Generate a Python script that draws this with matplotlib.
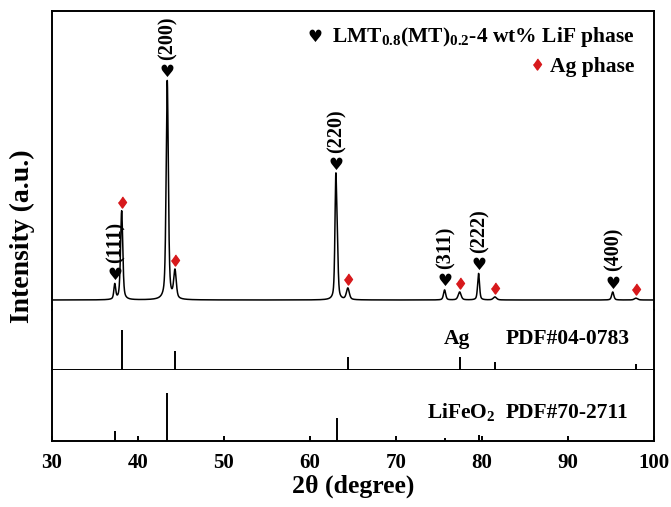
"""XRD pattern of LMT0.8(MT)0.2-4 wt% LiF with Ag and LiFeO2 reference sticks."""

import matplotlib
matplotlib.use("Agg")
import matplotlib.pyplot as plt
import numpy as np

plt.rcParams["font.family"] = ["Liberation Serif", "DejaVu Sans"]
plt.rcParams["font.weight"] = "bold"
plt.rcParams["axes.labelweight"] = "bold"
plt.rcParams["mathtext.fontset"] = "custom"
plt.rcParams["mathtext.rm"] = "Liberation Serif:bold"
plt.rcParams["mathtext.it"] = "Liberation Serif:bold"
plt.rcParams["mathtext.bf"] = "Liberation Serif:bold"

peak_pos = [37.3, 38.1, 43.4, 44.3, 63.0, 63.17, 64.4, 75.65, 77.4, 79.6, 81.5, 95.2, 97.9]
peak_height = [150, 890, 2190, 280, 1140, 420, 115, 100, 80, 265, 30, 80, 18]
peak_fwhm = [0.25, 0.3, 0.3, 0.35, 0.24, 0.24, 0.4, 0.3, 0.4, 0.26, 0.45, 0.3, 0.45]
background = 100

# indexed peaks of the main phase and Ag peaks
lmt_pos = [37.3, 43.4, 63.0, 75.65, 79.6, 95.2]
lmt_hkl = ["(111)", "(200)", "(220)", "(311)", "(222)", "(400)"]
ag_mark_pos = [38.1, 44.3, 64.4, 77.4, 81.5, 97.9]

# reference cards
ag_ref_pos = [38.1, 44.3, 64.4, 77.4, 81.5, 97.9]
ag_ref_int = [100, 47, 32, 32, 20, 15]
lfo_ref_pos = [37.3, 43.4, 63.1, 75.7, 79.7]
lfo_ref_int = [21, 100, 48, 6, 12]

RED = "#d7191c"
W, H = 671, 507
DIAMOND = [(0, 1), (0.72, 0), (0, -1), (-0.72, 0)]


def pattern(x):
    y = np.full_like(x, float(background))
    for c, h, w in zip(peak_pos, peak_height, peak_fwhm):
        g = np.exp(-4 * np.log(2) * (x - c) ** 2 / w ** 2)
        lo = 1 / (1 + 4 * (x - c) ** 2 / w ** 2)
        y += h * (0.5 * g + 0.5 * lo)
    return y


def box(top, bottom):
    return [52 / W, 1 - bottom / H, 602 / W, (bottom - top) / H]


fig = plt.figure(figsize=(W / 100, H / 100), dpi=100)
ax_xrd = fig.add_axes(box(11, 310))
ax_ag = fig.add_axes(box(310, 370))
ax_lfo = fig.add_axes(box(370, 441))

for ax in (ax_xrd, ax_ag, ax_lfo):
    ax.set_xlim(30, 100)
    ax.set_yticks([])
    for s in ax.spines.values():
        s.set_linewidth(1.4)
ax_xrd.spines["bottom"].set_visible(False)
ax_ag.spines["top"].set_visible(False)
ax_lfo.spines["top"].set_visible(False)
ax_xrd.set_xticks([])
ax_ag.set_xticks([])

x = np.linspace(30, 100, 7001)
y = pattern(x)
ax_xrd.plot(x, y, color="black", lw=1.1)
ax_xrd.set_ylim(0, 2990)
px = 10.0  # data units per pixel in the pattern panel


def top_at(p):
    return pattern(np.array([p]))[0]


for p, lab in zip(lmt_pos, lmt_hkl):
    yt = top_at(p)
    ax_xrd.annotate("\u2665", (p, yt), xytext=(0, 2.5), textcoords="offset points",
                    ha="center", va="baseline", fontsize=12, family="DejaVu Sans")
    ax_xrd.annotate(lab, (p, yt), xytext=(0.5, 15), textcoords="offset points",
                    ha="center", va="bottom", rotation=90, fontsize=14.5)

ag_tops = [top_at(p) + 9 * px for p in ag_mark_pos]
ax_xrd.plot(ag_mark_pos, ag_tops, ls="none", marker=DIAMOND, ms=8, color=RED, mec=RED)

# legend
ax_xrd.text(0.437, 0.913, "\u2665", transform=ax_xrd.transAxes, ha="center", va="center",
            fontsize=12, family="DejaVu Sans")
ax_xrd.text(0.968, 0.896, "LMT$_{0.8}$(MT)$_{0.2}$-4 wt% LiF phase", transform=ax_xrd.transAxes,
            ha="right", va="baseline", fontsize=15.5)
ax_xrd.plot([0.806], [0.823], transform=ax_xrd.transAxes, marker=DIAMOND, ms=8,
            color=RED, mec=RED, ls="none")
ax_xrd.text(0.968, 0.796, "Ag phase", transform=ax_xrd.transAxes, ha="right",
            va="baseline", fontsize=15.5)

ax_ag.vlines(ag_ref_pos, 0, ag_ref_int, color="black", lw=1.4)
ax_ag.set_ylim(0, 150)
ax_ag.text(0.651, 0.433, "Ag", transform=ax_ag.transAxes, ha="left", va="baseline", fontsize=15.5)
ax_ag.text(0.960, 0.433, "PDF#04-0783", transform=ax_ag.transAxes, ha="right", va="baseline",
           fontsize=15.5)

ax_lfo.vlines(lfo_ref_pos, 0, lfo_ref_int, color="black", lw=1.4)
ax_lfo.set_ylim(0, 148)
ax_lfo.text(0.623, 0.324, "LiFeO$_2$", transform=ax_lfo.transAxes, ha="left", va="baseline",
            fontsize=15.5)
ax_lfo.text(0.957, 0.324, "PDF#70-2711", transform=ax_lfo.transAxes, ha="right", va="baseline",
            fontsize=15.5)

ax_lfo.set_xticks(np.arange(30, 101, 10))
ax_lfo.tick_params(axis="x", direction="in", length=3.6, width=1.4, pad=9, labelsize=15)
ax_lfo.set_xlabel("2\u03b8 (degree)", fontsize=18.5, fontweight="bold", labelpad=1)

fig.text(22 / W, 1 - 236 / H, "Intensity (a.u.)", rotation=90, ha="center", va="center",
         fontsize=20, fontweight="bold")

fig.savefig("out.png", dpi=100)
